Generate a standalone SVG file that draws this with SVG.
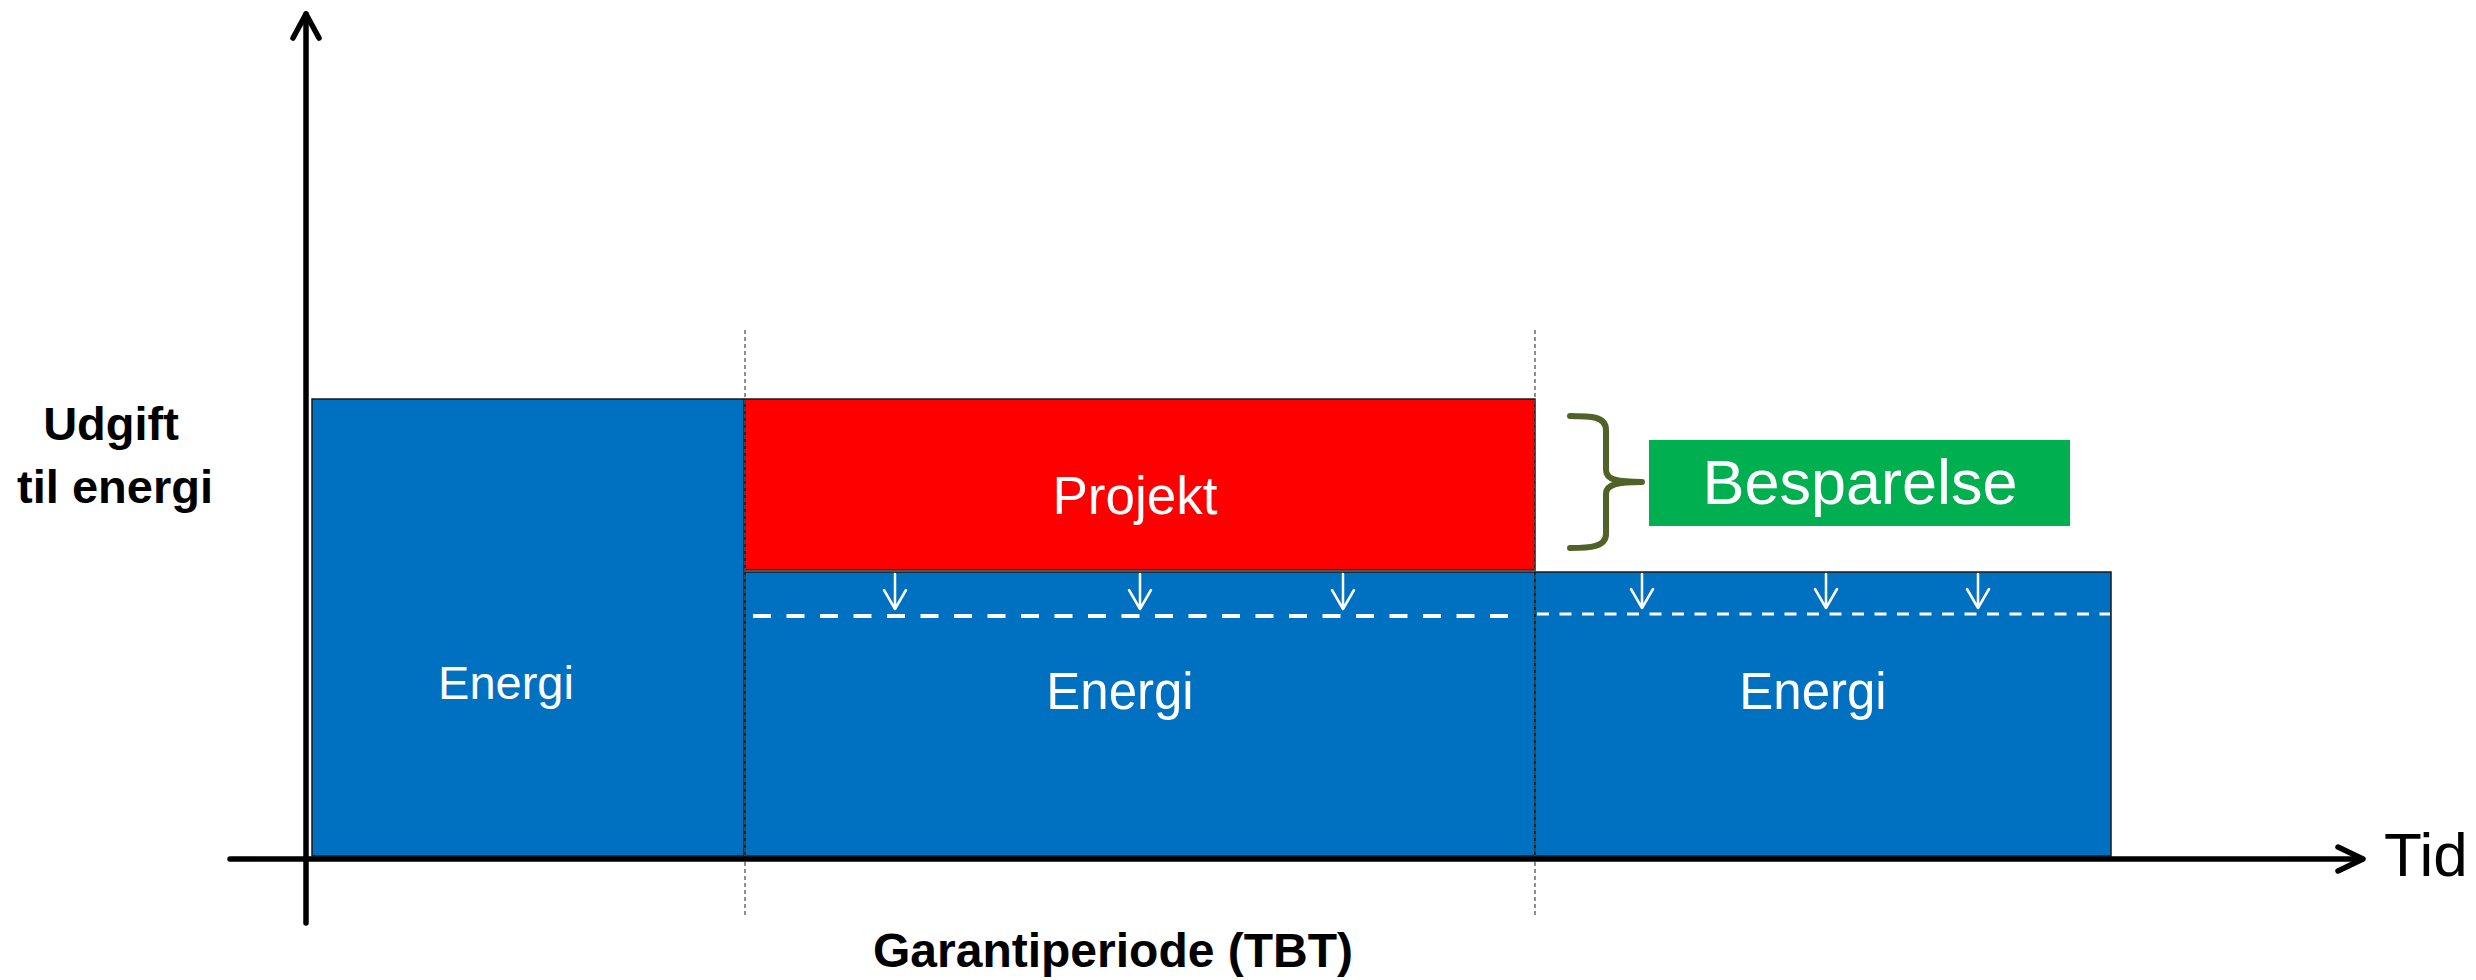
<svg xmlns="http://www.w3.org/2000/svg" width="2476" height="980" viewBox="0 0 2476 980">
<style>
.box{stroke:#1a1a1a;stroke-width:1.5}
.blue{fill:#0070C0}
.red{fill:#FF0000}
.lbl{font-family:"Liberation Sans",Arial,sans-serif;fill:#fff;text-anchor:middle}
.bold{font-family:"Liberation Sans",Arial,sans-serif;font-weight:bold;fill:#000;text-anchor:middle}
.axis{stroke:#000;stroke-width:5.5;fill:none;stroke-linecap:round;stroke-linejoin:round}
.vdash{stroke:#555;stroke-width:1.3;stroke-dasharray:4 3;fill:none}
.warrow{stroke:#fff;stroke-width:2.5;fill:none;stroke-linecap:round;stroke-linejoin:round}
</style>
<rect width="2476" height="980" fill="#fff"/>
<g id="box-energi-1">
<rect class="box blue" x="312" y="399" width="432" height="457"/>
<text class="lbl" x="506" y="699" font-size="47">Energi</text>
</g>
<g id="box-projekt">
<rect class="box red" x="745" y="399" width="790" height="171"/>
<text class="lbl" x="1135" y="514" font-size="53">Projekt</text>
</g>
<g id="box-energi-2">
<rect class="box blue" x="745" y="572" width="790" height="284"/>
<line x1="753" y1="616" x2="1515" y2="616" stroke="#fff" stroke-width="4" stroke-dasharray="18 15.5"/>
<text class="lbl" x="1120" y="709" font-size="51">Energi</text>
</g>
<g id="box-energi-3">
<rect class="box blue" x="1535" y="572" width="576" height="284"/>
<line x1="1537" y1="614" x2="2110" y2="614" stroke="#fff" stroke-width="2.8" stroke-dasharray="12 10.5"/>
<text class="lbl" x="1813" y="709" font-size="51">Energi</text>
</g>
<g id="brace">
<path d="M1570,416 C1590,416 1606,416 1606,430 L1606,470 C1606,480 1618,482 1642,482 C1618,482 1606,484 1606,494 L1606,534 C1606,547 1590,548 1570,548" fill="none" stroke="#4F6228" stroke-width="6" stroke-linecap="round" stroke-linejoin="round"/>
</g>
<g id="box-besparelse">
<rect x="1649" y="440" width="421" height="86" fill="#00B050"/>
<text class="lbl" x="1860" y="504" font-size="63">Besparelse</text>
</g>
<g id="label-y">
<text class="bold" x="111" y="440" font-size="47">Udgift</text>
<text class="bold" x="115" y="503" font-size="47">til energi</text>
</g>
<g id="label-x">
<text class="bold" x="1113" y="967" font-size="48">Garantiperiode (TBT)</text>
</g>
<g id="label-tid">
<text x="2384" y="876" font-family="'Liberation Sans',Arial,sans-serif" font-size="62" fill="#000">Tid</text>
</g>
<g id="connectors">
<line class="vdash" x1="745" y1="330" x2="745" y2="918"/>
<line class="vdash" x1="1535" y1="330" x2="1535" y2="918"/>
<path class="axis" d="M306,923 L306,14"/>
<path class="axis" d="M293,38 L306,14 L319,38"/>
<path class="axis" d="M230,859 L2362,859"/>
<path class="axis" d="M2338,847 L2363,859 L2338,871"/>
<g id="down-arrows">
<path class="warrow" d="M895,574 L895,609 M884,590 L895,609 L906,590"/>
<path class="warrow" d="M1140,574 L1140,609 M1129,590 L1140,609 L1151,590"/>
<path class="warrow" d="M1343,574 L1343,609 M1332,590 L1343,609 L1354,590"/>
<path class="warrow" d="M1642,574 L1642,608 M1631,589 L1642,608 L1653,589"/>
<path class="warrow" d="M1826,574 L1826,608 M1815,589 L1826,608 L1837,589"/>
<path class="warrow" d="M1978,574 L1978,608 M1967,589 L1978,608 L1989,589"/>
</g>
</g>
</svg>
